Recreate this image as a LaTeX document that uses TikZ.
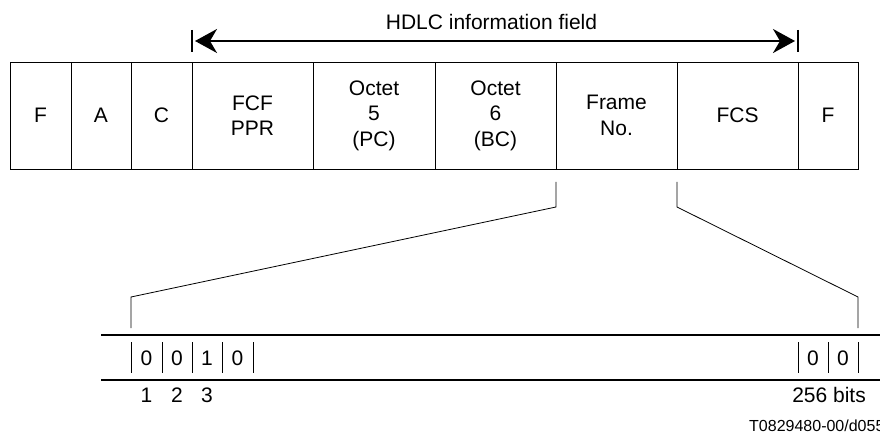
\documentclass[tikz,border=0pt]{standalone}
\usepackage{fontspec}
\setmainfont{Liberation Sans}
\usetikzlibrary{arrows.meta}
\begin{document}
\begin{tikzpicture}[x=1pt,y=-1pt,
  every node/.style={font=\fontsize{21}{25.5}\selectfont, inner sep=0pt},
  cell/.style={draw, line width=0.9pt, minimum height=107pt, align=center},
  tick/.style={line width=1pt},
  thin/.style={line width=0.8pt},
  rule/.style={line width=1.3pt},
  field/.style={line width=2pt, {Stealth[length=22pt,width=24pt,inset=7pt]}-{Stealth[length=22pt,width=24pt,inset=7pt]}, shorten <=3pt, shorten >=3pt}
]
\useasboundingbox (0,0) rectangle (880,435);
% frame cells
\node[cell, minimum width=61pt]  (cF1) at (40.5,115.5) {F};
\node[cell, minimum width=60pt]  (cA)  at (101,115.5) {A};
\node[cell, minimum width=61pt]  (cC)  at (161.5,115.5) {C};
\node[cell, minimum width=121pt] (cFCF) at (252.5,115.5) {FCF\\PPR};
\node[cell, minimum width=122pt] (cO5) at (374,115.5) {Octet\\5\\(PC)};
\node[cell, minimum width=121pt] (cO6) at (495.5,115.5) {Octet\\6\\(BC)};
\node[cell, minimum width=121pt] (cFN) at (616.5,115.5) {Frame\\No.};
\node[cell, minimum width=121pt] (cFCS) at (737.5,115.5) {FCS};
\node[cell, minimum width=60pt]  (cF2) at (828,115.5) {F};
% information field arrow
\coordinate (tl1) at (192,30); \coordinate (tl2) at (192,52);
\coordinate (tr1) at (798,30); \coordinate (tr2) at (798,52);
\draw[tick, line width=1.5pt] (tl1) -- (tl2);
\draw[tick, line width=1.5pt] (tr1) -- (tr2);
\coordinate (al) at (192,41); \coordinate (ar) at (798,41);
\draw[field] (al) -- (ar);
\node (hdlc) at (491.5,22) {HDLC information field};
% expansion connectors
\coordinate (l0) at (556,182); \coordinate (l1) at (556,207);
\coordinate (l2) at (131,297); \coordinate (l3) at (131,328);
\draw[thin] (l0) -- (l1) -- (l2) -- (l3);
\coordinate (r0) at (677,182); \coordinate (r1) at (677,207);
\coordinate (r2) at (858,297); \coordinate (r3) at (858,328);
\draw[thin] (r0) -- (r1) -- (r2) -- (r3);
% bit field rules
\coordinate (h1a) at (101,335); \coordinate (h1b) at (880,335);
\coordinate (h2a) at (101,380); \coordinate (h2b) at (880,380);
\draw[rule] (h1a) -- (h1b);
\draw[rule] (h2a) -- (h2b);
% bit ticks
\foreach \x in {131,162,192,222,253,798,828,858}{
  \draw[tick] (\x,342) -- (\x,373);
}
% bits
\node (b1) at (146.5,358) {0};
\node (b2) at (177,358) {0};
\node (b3) at (207,358) {1};
\node (b4) at (237.5,358) {0};
\node (b255) at (813,358) {0};
\node (b256) at (843,358) {0};
% bit numbers
\node (n1) at (146.5,395) {1};
\node (n2) at (177,395) {2};
\node (n3) at (207,395) {3};
\node[anchor=east] (n256) at (866,395) {256 bits};
\node[anchor=west, font=\fontsize{16}{19}\selectfont] (ref) at (749,426) {T0829480-00/d055};
\end{tikzpicture}
\end{document}
